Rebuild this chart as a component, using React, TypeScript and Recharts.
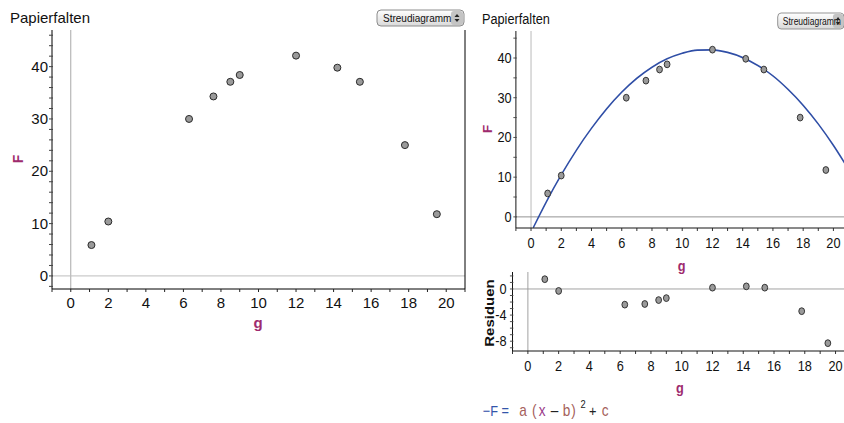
import React from 'react';
import { ComposedChart, XAxis, YAxis, Scatter, Line, ReferenceLine } from 'recharts';

// Messwerte (Papierfalten)
const g = [1.1, 2, 6.3, 7.6, 8.5, 9, 12, 14.2, 15.4, 17.8, 19.5];
const F = [5.9, 10.4, 30, 34.3, 37.1, 38.4, 42.1, 39.8, 37.1, 25, 11.8];
const residuen = [1.5, -0.3, -2.4, -2.3, -1.7, -1.4, 0.2, 0.4, 0.2, -3.4, -8.3];
const kurveG = [0.15, 1, 2, 3, 4, 5, 6, 7, 8, 9, 10, 11, 12, 13, 14, 15, 16, 17, 18, 19, 20, 20.8];
const kurveF = [-2.7, 3.7, 10.6, 16.8, 22.3, 27.2, 31.4, 34.9, 37.7, 39.8, 41.2, 42.0, 42.05, 41.4, 40.1, 38.1, 35.5, 32.1, 28.1, 23.4, 18.0, 13.2];

const xTicks = [-1, 0, 1, 2, 3, 4, 5, 6, 7, 8, 9, 10, 11, 12, 13, 14, 15, 16, 17, 18, 19, 20, 21];
const xMajor = [0, 2, 4, 6, 8, 10, 12, 14, 16, 18, 20];
const yTicksLinks = [-2, 0, 2, 4, 6, 8, 10, 12, 14, 16, 18, 20, 22, 24, 26, 28, 30, 32, 34, 36, 38, 40, 42, 44, 46];
const yTicksRechts = [0, 5, 10, 15, 20, 25, 30, 35, 40, 45];
const yMajor = [0, 10, 20, 30, 40];
const yTicksRes = [-9, -8, -7, -6, -5, -4, -3, -2, -1, 0, 1, 2];
const resMajor = [0, -4, -8];

const punkte = g.map((x, i) => ({ g: x, F: F[i] }));
const resPunkte = g.map((x, i) => ({ g: x, F: residuen[i] }));
const kurve = kurveG.map((x, i) => ({ g: x, F: kurveF[i] }));

const FONT = '"Liberation Sans", Arial, sans-serif';
const LILA = '#9e2b6e';

const dot = (r: number) => (p: any) => (
  <circle cx={p.cx} cy={p.cy} r={r} fill="#9a9a9a" stroke="#2a2a2a" strokeWidth={1} />
);

const xTick = (majors: number[], fs: number, off: number, maxV: number) => (p: any) => {
  const v = p.payload.value;
  const major = majors.includes(v);
  return (
    <g>
      <line x1={p.x} x2={p.x} y1={p.y} y2={p.y + 3} stroke="#222" />
      {major && v <= maxV && (
        <text x={p.x} y={p.y + off} textAnchor="middle" fontSize={fs} fontFamily={FONT} fill="#111">
          {v}
        </text>
      )}
    </g>
  );
};

const yTick = (majors: number[], fs: number, gap: number) => (p: any) => {
  const v = p.payload.value;
  const major = majors.includes(v);
  return (
    <g>
      <line x1={p.x - 3} x2={p.x + 1} y1={p.y} y2={p.y} stroke="#444" />
      {major && (
        <text x={p.x - gap} y={p.y + 5} textAnchor="end" fontSize={fs} fontFamily={FONT} fill="#111">
          {v}
        </text>
      )}
    </g>
  );
};

function Knopf({ x, y, w }: { x: number; y: number; w: number }) {
  return (
    <g>
      <defs>
        <linearGradient id={`kg${x}`} x1="0" y1="0" x2="0" y2="1">
          <stop offset="0" stopColor="#ffffff" />
          <stop offset="1" stopColor="#d9d9d9" />
        </linearGradient>
      </defs>
      <rect x={x} y={y} width={w} height={16} rx={4} fill={`url(#kg${x})`} stroke="#8c8c8c" />
      <rect x={x + w - 13} y={y + 1} width={12} height={14} rx={3} fill="#c4c4c4" />
      <text x={x + 6} y={y + 12} fontSize={10} fontFamily={FONT} fill="#111">Streudiagramm</text>
      <path d={`M${x + w - 9.5} ${y + 7} l2.5 -3 l2.5 3 z`} fill="#222" />
      <path d={`M${x + w - 9.5} ${y + 9} l2.5 3 l2.5 -3 z`} fill="#222" />
    </g>
  );
}

export default function App() {
  return (
    <div style={{ position: 'absolute', left: 0, top: 0, width: 844, height: 423, overflow: 'hidden', background: '#fff', fontFamily: FONT }}>
      {/* linkes Diagramm */}
      <div style={{ position: 'absolute', left: 0, top: 0 }}>
        <ComposedChart width={470} height={340} margin={{ top: 30, right: 5, bottom: 11, left: 0 }}>
          <XAxis dataKey="g" type="number" domain={[-1, 21]} ticks={xTicks} interval={0} allowDataOverflow
            height={40} tickSize={0} tickMargin={0} stroke="#000" tick={xTick(xMajor, 15, 19, 20)} />
          <YAxis type="number" domain={[-2.5, 47]} ticks={yTicksLinks} interval={0} allowDataOverflow
            width={52} tickSize={0} tickMargin={0} stroke="#000" tick={yTick(yMajor, 15, 4)} />
          <ReferenceLine x={0} stroke="#a8a8a8" />
          <ReferenceLine y={0} stroke="#bdbdbd" />
          <ReferenceLine x={21} stroke="#000" />
          <Scatter data={punkte} dataKey="F" shape={dot(3.5)} isAnimationActive={false} />
        </ComposedChart>
      </div>
      <svg width={470} height={423} style={{ position: 'absolute', left: 0, top: 0, pointerEvents: 'none' }}>
        <text x={10} y={23} fontSize={15} fontFamily={FONT} fill="#111">Papierfalten</text>
        <Knopf x={377} y={10} w={87} />
        <text x={0} y={0} transform="translate(23 159) rotate(-90)" textAnchor="middle" fontSize={14} fontWeight="bold" fontFamily={FONT} fill={LILA}>F</text>
        <text x={258} y={328} textAnchor="middle" fontSize={15} fontWeight="bold" fontFamily={FONT} fill={LILA}>g</text>
      </svg>

      {/* rechtes Feld, horizontal gestaucht */}
      <div style={{ position: 'absolute', left: 470, top: 0, width: 440, height: 423, transform: 'scaleX(0.85)', transformOrigin: '0 0' }}>
        <div style={{ position: 'absolute', left: 0, top: 0 }}>
          <ComposedChart width={440} height={260} margin={{ top: 31, right: 0, bottom: 2, left: 0 }}>
            <XAxis dataKey="g" type="number" domain={[-1, 20.7]} ticks={xTicks.slice(0, 22)} interval={0} allowDataOverflow
              height={30} tickSize={0} tickMargin={0} stroke="#000" tick={xTick(xMajor, 15, 20, 20)} />
            <YAxis type="number" domain={[-2.8, 46.8]} ticks={yTicksRechts} interval={0} allowDataOverflow
              width={54} tickSize={0} tickMargin={0} stroke="#000" tick={yTick(yMajor, 15, 5)} />
            <ReferenceLine x={0} stroke="#b5b5b5" />
            <ReferenceLine y={0} stroke="#8a8a8a" />
            <Line data={kurve} dataKey="F" type="monotone" stroke="#2f4ea6" strokeWidth={1.7} dot={false} isAnimationActive={false} />
            <Scatter data={punkte} dataKey="F" shape={dot(3.4)} isAnimationActive={false} />
          </ComposedChart>
        </div>
        <div style={{ position: 'absolute', left: 0, top: 250 }}>
          <ComposedChart width={440} height={130} margin={{ top: 22, right: 0, bottom: 4, left: 0 }}>
            <XAxis dataKey="g" type="number" domain={[-1, 20.55]} ticks={xTicks.slice(0, 22)} interval={0} allowDataOverflow
              height={25} tickSize={0} tickMargin={0} stroke="#000" tick={xTick(xMajor, 15, 20, 20)} />
            <YAxis type="number" domain={[-9.5, 2.6]} ticks={yTicksRes} interval={0} allowDataOverflow
              width={50} tickSize={0} tickMargin={0} stroke="#000" tick={yTick(resMajor, 15, 7)} />
            <ReferenceLine x={0} stroke="#9a9a9a" />
            <ReferenceLine y={0} stroke="#9a9a9a" />
            <Scatter data={resPunkte} dataKey="F" shape={dot(3.4)} isAnimationActive={false} />
          </ComposedChart>
        </div>
        <svg width={440} height={423} style={{ position: 'absolute', left: 0, top: 0, pointerEvents: 'none' }}>
          <text x={14} y={24} fontSize={15} fontFamily={FONT} fill="#111">Papierfalten</text>
          <Knopf x={362} y={13} w={78} />
          <text x={0} y={0} transform="translate(26 129) rotate(-90)" textAnchor="middle" fontSize={14} fontWeight="bold" fontFamily={FONT} fill={LILA}>F</text>
          <text x={249} y={271} textAnchor="middle" fontSize={15} fontWeight="bold" fontFamily={FONT} fill={LILA}>g</text>
          <text x={0} y={0} transform="translate(28 313) rotate(-90)" textAnchor="middle" fontSize={15} fontWeight="bold" fontFamily={FONT} fill="#111">Residuen</text>
          <text x={247} y={393} textAnchor="middle" fontSize={15} fontWeight="bold" fontFamily={FONT} fill={LILA}>g</text>
          <text y={416} fontFamily={FONT} fontSize={15}>
            <tspan x={15} fill="#3355aa">−F =</tspan>
            <tspan x={58} fill="#a5605a" fontSize={16}>a</tspan>
            <tspan x={73} fill="#a5605a" fontSize={16}>(</tspan>
            <tspan x={81} fill="#9a3a8a" fontSize={16}>x</tspan>
            <tspan x={95} fill="#222" fontSize={16}>–</tspan>
            <tspan x={109} fill="#a5605a" fontSize={16}>b</tspan>
            <tspan x={119} fill="#a5605a" fontSize={16}>)</tspan>
            <tspan x={130} dy={-8} fill="#222" fontSize={11}>2</tspan>
            <tspan x={140} dy={8} fill="#222" fontSize={15}>+</tspan>
            <tspan x={155} fill="#a5605a" fontSize={16}>c</tspan>
          </text>
        </svg>
      </div>
    </div>
  );
}
